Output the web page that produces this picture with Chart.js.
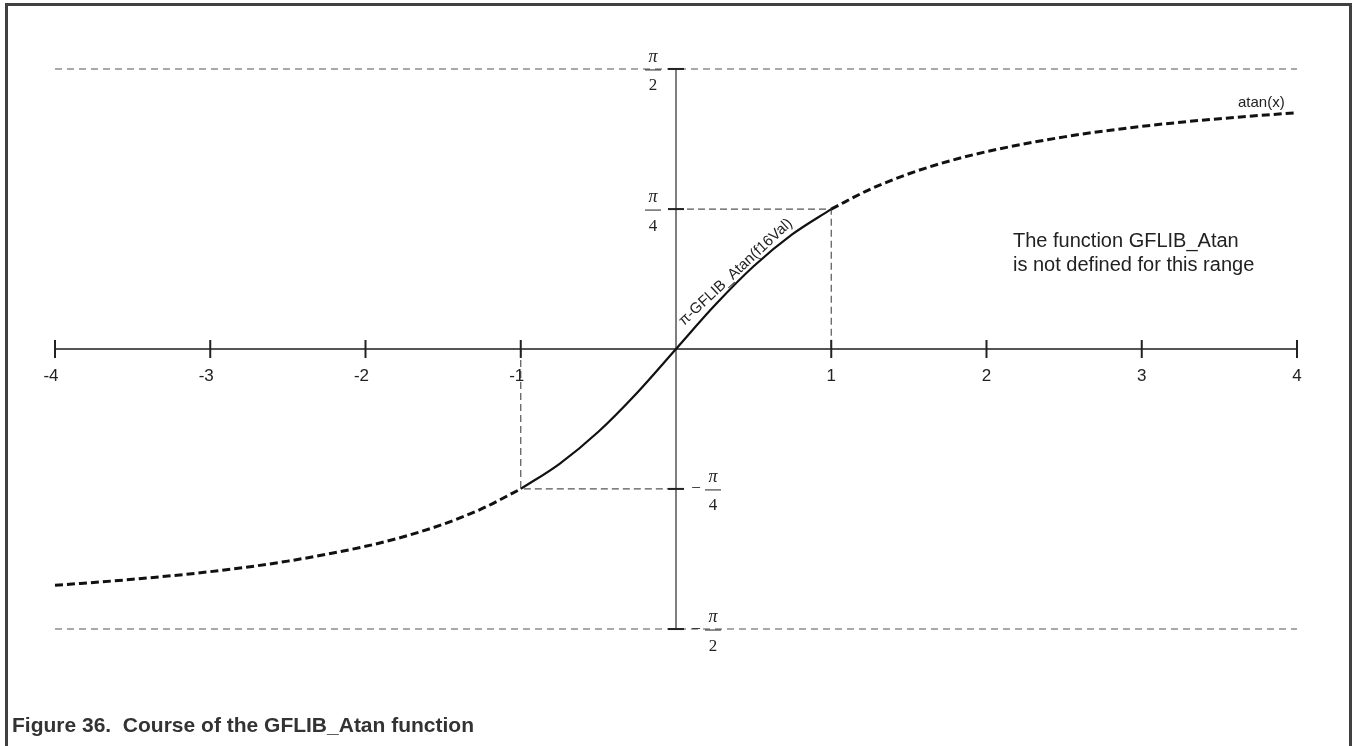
<!DOCTYPE html>
<html>
<head>
<meta charset="utf-8">
<script src="https://cdn.jsdelivr.net/npm/chart.js"></script>
<style>
  body { margin: 0; background: #fff; }
  #frame { position: absolute; left: 5px; top: 3px; width: 1341px; height: 760px;
           border: 3px solid #404040; border-bottom: none; }
  #wrap { position: absolute; left: 0; top: 0; width: 1354px; height: 746px; }
  #caption { position: absolute; left: 12px; top: 713px; color: #333;
             font: bold 21px "Liberation Sans", Arial, sans-serif; white-space: pre; }
</style>
</head>
<body>
<div id="frame"></div>
<div id="wrap"><canvas id="graph"></canvas></div>
<div id="caption">Figure 36.  Course of the GFLIB_Atan function</div>
<script>
// tick positions + labels
const xTicks = [-4, -3, -2, -1, 1, 2, 3, 4];
const xTickLabels = ["-4", "-3", "-2", "-1", "1", "2", "3", "4"];
const yTicks = [1.571, 0.785, -0.785, -1.571];
const yTickDen = ["2", "4", "4", "2"];
const yTickSign = ["", "", "−", "−"];

// atan(x) outside -1..1 (dashed)
const atanLeftX = [-4, -3.5, -3, -2.5, -2, -1.75, -1.5, -1.25, -1];
const atanLeftY = [-1.326, -1.292, -1.249, -1.190, -1.107, -1.052, -0.983, -0.896, -0.785];
const atanRightX = [1, 1.25, 1.5, 1.75, 2, 2.5, 3, 3.5, 4];
const atanRightY = [0.785, 0.896, 0.983, 1.052, 1.107, 1.190, 1.249, 1.292, 1.326];
// GFLIB_Atan range (solid)
const gflibX = [-1, -0.75, -0.5, -0.25, 0, 0.25, 0.5, 0.75, 1];
const gflibY = [-0.785, -0.644, -0.464, -0.245, 0, 0.245, 0.464, 0.644, 0.785];

const pts = (xs, ys) => xs.map((x, i) => ({ x: x, y: ys[i] }));

const lineSet = (data, color, width, dash) => ({
  data: data, showLine: true, borderColor: color, borderWidth: width,
  borderDash: dash, pointRadius: 0, clip: false, fill: false
});

const curveSet = (data, dash, width) => {
  const d = lineSet(data, "#111", width, dash);
  d.cubicInterpolationMode = "monotone";
  return d;
};

const xMin = xTicks[0], xMax = xTicks[xTicks.length - 1];

const config = {
  type: "scatter",
  data: {
    datasets: [
      curveSet(pts(gflibX, gflibY), [], 2.2),
      curveSet(pts(atanLeftX, atanLeftY), [8, 4], 3),
      curveSet(pts(atanRightX, atanRightY), [8, 4], 3),
      // guides from +-1
      lineSet([{ x: -1, y: 0 }, { x: -1, y: yTicks[2] }, { x: 0, y: yTicks[2] }], "#555", 1.2, [7, 4]),
      lineSet([{ x: 0, y: yTicks[1] }, { x: 1, y: yTicks[1] }, { x: 1, y: 0 }], "#555", 1.2, [7, 4]),
      // axes
      lineSet([{ x: xMin, y: 0 }, { x: xMax, y: 0 }], "#555", 2, []),
      lineSet([{ x: 0, y: yTicks[0] }, { x: 0, y: yTicks[3] }], "#555", 1.5, []),
      // +-pi/2 limits
      lineSet([{ x: xMin, y: yTicks[0] }, { x: xMax, y: yTicks[0] }], "#8c8c8c", 1.5, [7, 5]),
      lineSet([{ x: xMin, y: yTicks[3] }, { x: xMax, y: yTicks[3] }], "#8c8c8c", 1.5, [7, 5]),
    ],
  },
  options: {
    responsive: true,
    maintainAspectRatio: false,
    animation: false,
    layout: { padding: { left: 55, right: 57, top: 69, bottom: 117 } },
    plugins: { legend: { display: false }, tooltip: { enabled: false } },
    scales: {
      x: { type: "linear", min: xMin, max: xMax, display: false },
      y: { type: "linear", min: -1.5708, max: 1.5708, display: false },
    },
  },
  plugins: [{
    id: "axisMarks",
    afterDatasetsDraw(chart) {
      const ctx = chart.ctx, xs = chart.scales.x, ys = chart.scales.y;
      const x0 = xs.getPixelForValue(0), y0 = ys.getPixelForValue(0);
      ctx.save();
      ctx.strokeStyle = "#222";
      ctx.fillStyle = "#222";
      ctx.lineWidth = 2;
      ctx.textAlign = "center";
      ctx.textBaseline = "middle";

      // x ticks
      ctx.font = '17px "Liberation Sans", Arial, sans-serif';
      xTicks.forEach((v, i) => {
        const px = xs.getPixelForValue(v);
        ctx.beginPath(); ctx.moveTo(px, y0 - 9); ctx.lineTo(px, y0 + 9); ctx.stroke();
        ctx.fillText(xTickLabels[i], v < 0 ? px - 4 : px, y0 + 27);
      });

      // y ticks, pi fractions
      yTicks.forEach((v, i) => {
        const py = ys.getPixelForValue(v);
        ctx.lineWidth = 2;
        ctx.beginPath(); ctx.moveTo(x0 - 8, py); ctx.lineTo(x0 + 8, py); ctx.stroke();
        const cx = v > 0 ? x0 - 23 : x0 + 37;
        ctx.font = 'italic 18px "Liberation Serif", serif';
        ctx.fillText("π", cx, py - 12);
        ctx.font = '17px "Liberation Serif", serif';
        ctx.fillText(yTickDen[i], cx, py + 17);
        ctx.lineWidth = 1;
        ctx.beginPath(); ctx.moveTo(cx - 8, py + 1); ctx.lineTo(cx + 8, py + 1); ctx.stroke();
        if (yTickSign[i]) ctx.fillText(yTickSign[i], cx - 17, py);
      });

      // text notes
      ctx.textAlign = "left";
      ctx.textBaseline = "alphabetic";
      ctx.font = '15px "Liberation Sans", Arial, sans-serif';
      ctx.fillText("atan(x)", 1238, 107);
      ctx.font = '20px "Liberation Sans", Arial, sans-serif';
      ctx.fillText("The function GFLIB_Atan", 1013, 247);
      ctx.fillText("is not defined for this range", 1013, 271);

      // label along the solid part
      const ax = xs.getPixelForValue(0.42), ay = ys.getPixelForValue(0.398);
      ctx.translate(ax, ay);
      ctx.rotate(-43 * Math.PI / 180);
      ctx.textAlign = "center";
      ctx.font = '15px "Liberation Sans", Arial, sans-serif';
      ctx.fillText("π-GFLIB_Atan(f16Val)", 0, -4);
      ctx.restore();
    },
  }],
};

window.onload = () => {
  new Chart(document.getElementById("graph"), config);
};
</script>
</body>
</html>
